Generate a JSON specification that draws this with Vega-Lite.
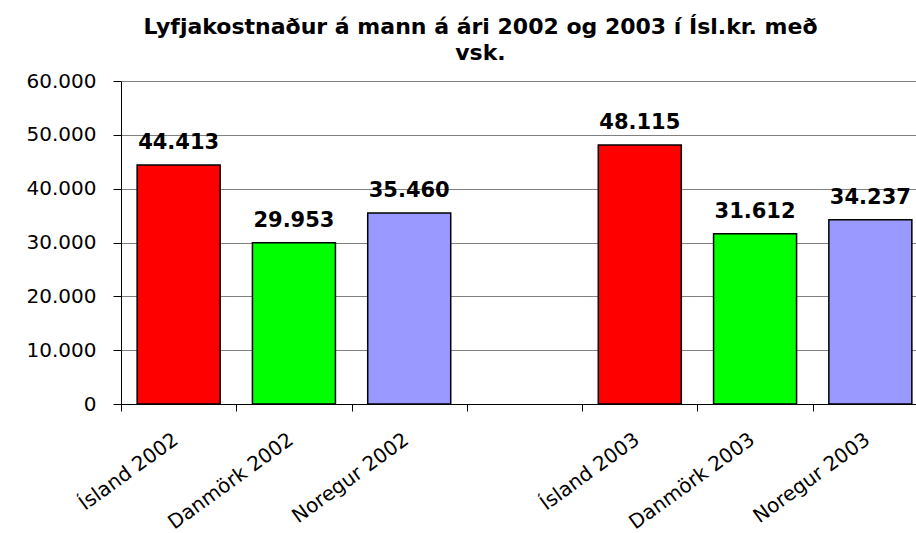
{
  "$schema": "https://vega.github.io/schema/vega-lite/v6.json",
  "autosize": "none",
  "width": 795,
  "height": 323,
  "padding": {"left": 121, "top": 81, "right": 0, "bottom": 129},
  "background": "white",
  "title": {
    "text": ["Lyfjakostnaður á mann á ári 2002 og 2003 í Ísl.kr. með", "vsk."],
    "font": "DejaVu Sans",
    "fontSize": 22,
    "fontWeight": "bold",
    "color": "black",
    "anchor": "middle",
    "frame": "group",
    "dx": -38,
    "offset": 6,
    "lineHeight": 26
  },
  "data": {
    "values": [
      {"label": "Ísland 2002", "land": "Ísland", "value": 44413},
      {"label": "Danmörk 2002", "land": "Danmörk", "value": 29953},
      {"label": "Noregur 2002", "land": "Noregur", "value": 35460},
      {"label": "Ísland  2003", "land": "Ísland", "value": 48115},
      {"label": "Danmörk 2003", "land": "Danmörk", "value": 31612},
      {"label": "Noregur 2003", "land": "Noregur", "value": 34237}
    ]
  },
  "encoding": {
    "x": {
      "field": "label",
      "type": "nominal",
      "scale": {
        "domain": ["Ísland 2002", "Danmörk 2002", "Noregur 2002", " ", "Ísland  2003", "Danmörk 2003", "Noregur 2003"],
        "range": [0, 807],
        "paddingInner": 0,
        "paddingOuter": 0
      },
      "axis": {
        "title": null,
        "labelAngle": -36,
        "labelFont": "DejaVu Sans",
        "labelFontSize": 20,
        "labelColor": "black",
        "labelPadding": 18,
        "labelOffset": -9,
        "tickBand": "extent",
        "tickSize": 7,
        "tickColor": "black",
        "domainColor": "black",
        "domainWidth": 1.2,
        "grid": false
      }
    },
    "y": {
      "field": "value",
      "type": "quantitative",
      "scale": {"domain": [0, 60000], "nice": false},
      "axis": {
        "title": null,
        "values": [0, 10000, 20000, 30000, 40000, 50000, 60000],
        "format": ",d",
        "labelFont": "DejaVu Sans",
        "labelFontSize": 20,
        "labelColor": "black",
        "labelPadding": 17,
        "tickSize": 8,
        "tickColor": "black",
        "domainColor": "black",
        "gridColor": "#808080",
        "gridOpacity": 1,
        "grid": true
      }
    }
  },
  "layer": [
    {
      "mark": {"type": "bar", "width": {"band": 0.72}, "stroke": "black", "strokeWidth": 1.5},
      "encoding": {
        "color": {
          "field": "land",
          "type": "nominal",
          "scale": {"domain": ["Ísland", "Danmörk", "Noregur"], "range": ["#FF0000", "#00FF00", "#9999FF"]},
          "legend": null
        }
      }
    },
    {
      "mark": {"type": "text", "font": "DejaVu Sans", "fontSize": 21, "fontWeight": "bold", "color": "black", "baseline": "alphabetic", "dy": -16},
      "encoding": {
        "text": {"field": "value", "type": "quantitative", "format": ",d"}
      }
    }
  ],
  "config": {
    "view": {"stroke": null},
    "locale": {
      "number": {"decimal": ",", "thousands": ".", "grouping": [3], "currency": ["", " kr."]}
    }
  }
}
